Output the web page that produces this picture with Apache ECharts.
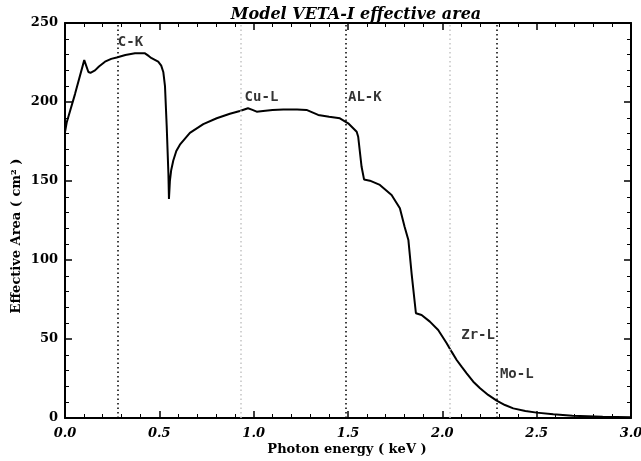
<!DOCTYPE html>
<html><head><meta charset="utf-8">
<script src="https://cdn.jsdelivr.net/npm/echarts@6/dist/echarts.min.js"></script>
<style>html,body{margin:0;padding:0;background:#fff}#c{width:641px;height:461px}</style>
</head><body><div id="c"></div>
<script>
const energy = [0.0, 0.009, 0.053, 0.102, 0.124, 0.135, 0.159, 0.18, 0.212, 0.245, 0.274, 0.32, 0.371, 0.424, 0.445, 0.459, 0.494, 0.51, 0.521, 0.53, 0.539, 0.548, 0.551, 0.556, 0.563, 0.574, 0.59, 0.609, 0.662, 0.733, 0.804, 0.874, 0.927, 0.97, 0.99, 1.016, 1.05, 1.10, 1.157, 1.23, 1.28, 1.342, 1.40, 1.457, 1.501, 1.546, 1.554, 1.572, 1.585, 1.616, 1.669, 1.731, 1.775, 1.80, 1.82, 1.837, 1.86, 1.89, 1.934, 1.978, 2.023, 2.049, 2.076, 2.102, 2.129, 2.164, 2.2, 2.243, 2.288, 2.332, 2.376, 2.44, 2.5, 2.588, 2.69, 2.85, 3.0];
const area = [181, 187, 205, 226.5, 219, 218.5, 220, 222.5, 225.5, 227.3, 228.2, 229.8, 230.8, 230.8, 229, 227.7, 225.5, 223, 219, 210, 185, 155, 138.6, 150, 157, 163, 169, 173, 180.5, 186, 189.7, 192.6, 194.3, 196, 195.2, 193.9, 194.3, 194.9, 195.3, 195.3, 195, 191.8, 190.7, 189.7, 186.5, 181.2, 178, 159, 151, 150.2, 147.5, 141.1, 132.7, 121.1, 112.7, 91.6, 66.3, 65.2, 61, 55.7, 47.3, 42, 36.7, 32.5, 28.3, 23, 18.8, 14.6, 11, 8.2, 6.1, 4.4, 3.4, 2.3, 1.5, 0.8, 0.4];
const edgeNames = ['C-K', 'Cu-L', 'AL-K', 'Zr-L', 'Mo-L'];
const edgeEnergy = [0.277, 0.93, 1.487, 2.04, 2.29];
const edgeStrong = [true, false, true, false, true];
const labelE = [0.28, 0.952, 1.50, 2.10, 2.305];
const labelA = [237.7, 203, 203, 52.5, 27.8];
const xTicks = ['0.0', '0.5', '1.0', '1.5', '2.0', '2.5', '3.0'];
const yTicks = [0, 50, 100, 150, 200, 250];

const chart = echarts.init(document.getElementById('c'), null, {renderer: 'canvas'});
const serif = '"DejaVu Serif", "Liberation Serif", serif';
const mono = '"DejaVu Sans Mono", "Liberation Mono", monospace';
const axisCommon = {
  min: 0,
  axisLine: {show: true, onZero: false, lineStyle: {color: '#000', width: 2}},
  axisTick: {show: true, inside: true, length: 7, lineStyle: {color: '#000', width: 1.5}},
  minorTick: {show: true, splitNumber: 5, length: 4, lineStyle: {color: '#000', width: 1}},
  splitLine: {show: false}
};
const lines = edgeEnergy.map((e, i) => ({
  xAxis: e,
  lineStyle: {type: [1.5, 3], color: edgeStrong[i] ? '#000' : '#c4c4c4', width: 1.5}
}));
const labels = edgeNames.map((n, i) => ({
  value: [labelE[i], labelA[i]],
  name: n
}));
chart.setOption({
  animation: false,
  backgroundColor: '#fff',
  title: {
    text: 'Model VETA-I effective area',
    left: 351, top: 2, textAlign: 'center',
    textStyle: {fontFamily: serif, fontStyle: 'italic', fontWeight: 'bold', fontSize: 16, color: '#000'}
  },
  graphic: [
    {type: 'text', x: 17, y: 236, rotation: Math.PI / 2,
      style: {text: 'Effective Area ( cm² )', fill: '#000', font: 'bold 13px ' + serif, align: 'center', verticalAlign: 'middle'}},
    {type: 'text', x: 347, y: 450,
      style: {text: 'Photon energy ( keV )', fill: '#000', font: 'bold 13px ' + serif, align: 'center', verticalAlign: 'middle'}}
  ],
  grid: {left: 65, right: 10, top: 23, bottom: 43, outerBoundsMode: 'none', containLabel: false},
  xAxis: [
    Object.assign({}, axisCommon, {
      type: 'value', max: 3, interval: 0.5, position: 'bottom',
      axisLabel: {margin: 9, color: '#000', fontFamily: serif, fontStyle: 'italic', fontWeight: 'bold', fontSize: 13,
        formatter: (v) => { const i = Math.round(v / 0.5); return xTicks[i] !== undefined ? xTicks[i] : ''; }}
    }),
    Object.assign({}, axisCommon, {
      type: 'value', max: 3, interval: 0.5, position: 'top',
      axisLabel: {show: false}
    })
  ],
  yAxis: [
    Object.assign({}, axisCommon, {
      type: 'value', max: 250, interval: 50, position: 'left',
      axisLabel: {margin: 7, color: '#000', fontFamily: serif, fontWeight: 'bold', fontSize: 13,
        formatter: (v) => yTicks.includes(v) ? String(v) : ''}
    }),
    Object.assign({}, axisCommon, {
      type: 'value', max: 250, interval: 50, position: 'right',
      axisLabel: {show: false}
    })
  ],
  series: [
    {
      type: 'line',
      data: energy.map((e, i) => [e, area[i]]),
      showSymbol: false, symbol: 'none',
      lineStyle: {color: '#000', width: 2},
      z: 3,
      markLine: {silent: true, symbol: 'none', label: {show: false}, data: lines}
    },
    {
      type: 'scatter',
      data: labels,
      symbolSize: 0,
      label: {show: true, position: 'right', distance: 0, formatter: (p) => p.name,
        fontFamily: mono, fontWeight: 'bold', fontSize: 14, color: '#000'},
      z: 4
    }
  ]
});
</script></body></html>
